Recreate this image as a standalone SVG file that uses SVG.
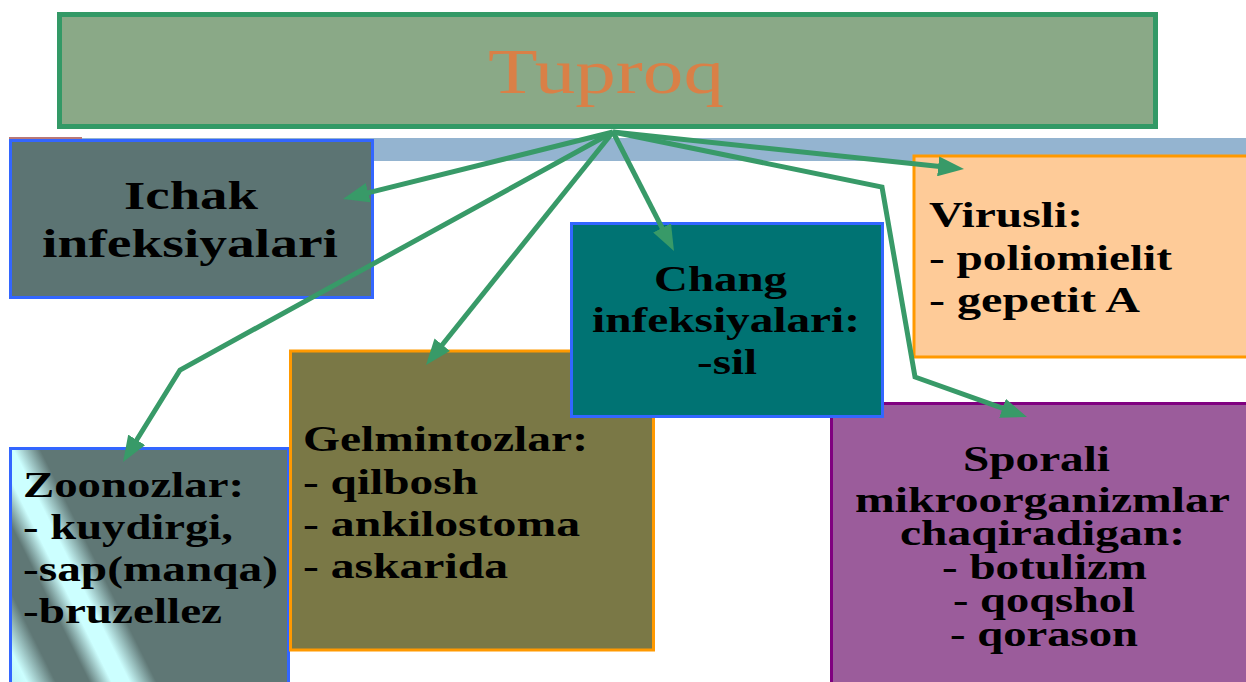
<svg xmlns="http://www.w3.org/2000/svg" width="1246" height="682" viewBox="0 0 1246 682">
<defs>
<style>
.t{font-family:"Liberation Serif","Times New Roman",serif;font-weight:bold;font-size:35px;fill:#000}
.big{font-size:41px}
.title{font-family:"Liberation Serif","Times New Roman",serif;font-size:63px;fill:#D98047}
.conn{fill:none;stroke:#389A68;stroke-width:5;stroke-linejoin:miter;marker-end:url(#ah)}
.blue{stroke:#3366FF;stroke-width:3}
.orange{stroke:#FF9900;stroke-width:3}
</style>
<marker id="ah" markerUnits="userSpaceOnUse" viewBox="0 0 26 20" refX="16" refY="10" markerWidth="26" markerHeight="20" orient="auto">
<path d="M0,0 L26,10 L0,20 Z" fill="#389A68"/>
</marker>
<linearGradient id="zg" gradientUnits="userSpaceOnUse" x1="0" y1="682" x2="178.9" y2="592.6">
<stop offset="0" stop-color="#B8EEEE"/>
<stop offset="0.12" stop-color="#CCFFFF"/>
<stop offset="0.25" stop-color="#5F7775"/>
<stop offset="0.4" stop-color="#5F7775"/>
<stop offset="0.5" stop-color="#CCFFFF"/>
<stop offset="0.58" stop-color="#CCFFFF"/>
<stop offset="0.7" stop-color="#5F7775"/>
<stop offset="1" stop-color="#5F7775"/>
</linearGradient>
</defs>
<rect width="1246" height="682" fill="#FFFFFF"/>
<rect x="82" y="138" width="1170" height="23" fill="#94B4D0"/>
<line x1="9" y1="138" x2="82" y2="138" stroke="#B87878" stroke-width="2"/>

<g id="tuproq">
<rect x="59.5" y="14.5" width="1096" height="112" fill="#8AA987" stroke="#339966" stroke-width="5"/>
<text class="title" x="488" y="93" textLength="236" lengthAdjust="spacingAndGlyphs">Tuproq</text>
</g>

<g id="ichak">
<rect x="10.5" y="140.5" width="362" height="157" fill="#5C7473" class="blue"/>
<text class="t big" x="124" y="209" textLength="134" lengthAdjust="spacingAndGlyphs">Ichak</text>
<text class="t big" x="42" y="257" textLength="296" lengthAdjust="spacingAndGlyphs">infeksiyalari</text>
</g>

<g id="virusli">
<rect x="914" y="156" width="340" height="201" fill="#FECB98" class="orange"/>
<text class="t" x="929" y="227" textLength="154" lengthAdjust="spacingAndGlyphs">Virusli:</text>
<text class="t" x="929" y="270" textLength="243" lengthAdjust="spacingAndGlyphs">- poliomielit</text>
<text class="t" x="929" y="312" textLength="211" lengthAdjust="spacingAndGlyphs">- gepetit A</text>
</g>

<g id="zoonozlar">
<rect x="10.5" y="448.5" width="278" height="250" fill="url(#zg)" class="blue"/>
<text class="t" x="23" y="497" textLength="221" lengthAdjust="spacingAndGlyphs">Zoonozlar:</text>
<text class="t" x="23" y="539" textLength="210" lengthAdjust="spacingAndGlyphs">- kuydirgi,</text>
<text class="t" x="23" y="581" textLength="255" lengthAdjust="spacingAndGlyphs">-sap(manqa)</text>
<text class="t" x="23" y="623" textLength="199" lengthAdjust="spacingAndGlyphs">-bruzellez</text>
</g>

<g id="gelmintozlar">
<rect x="290.5" y="351" width="363" height="299" fill="#7A7846" class="orange"/>
<text class="t" x="303" y="451" textLength="285" lengthAdjust="spacingAndGlyphs">Gelmintozlar:</text>
<text class="t" x="303" y="494" textLength="175" lengthAdjust="spacingAndGlyphs">- qilbosh</text>
<text class="t" x="303" y="536" textLength="277" lengthAdjust="spacingAndGlyphs">- ankilostoma</text>
<text class="t" x="303" y="578" textLength="205" lengthAdjust="spacingAndGlyphs">- askarida</text>
</g>

<g id="sporali">
<rect x="831.5" y="403.5" width="420" height="290" fill="#9B5C9B" stroke="#800080" stroke-width="3"/>
<text class="t" x="963" y="471" textLength="147" lengthAdjust="spacingAndGlyphs">Sporali</text>
<text class="t" x="855" y="512" textLength="375" lengthAdjust="spacingAndGlyphs">mikroorganizmlar</text>
<text class="t" x="900" y="545" textLength="285" lengthAdjust="spacingAndGlyphs">chaqiradigan:</text>
<text class="t" x="942" y="579" textLength="205" lengthAdjust="spacingAndGlyphs">- botulizm</text>
<text class="t" x="953" y="612" textLength="182" lengthAdjust="spacingAndGlyphs">- qoqshol</text>
<text class="t" x="950" y="646" textLength="188" lengthAdjust="spacingAndGlyphs">- qorason</text>
</g>

<g id="chang">
<rect x="571.5" y="223.5" width="311" height="193" fill="#007373" class="blue"/>
<text class="t" x="654" y="291" textLength="133" lengthAdjust="spacingAndGlyphs">Chang</text>
<text class="t" x="592" y="332" textLength="268" lengthAdjust="spacingAndGlyphs">infeksiyalari:</text>
<text class="t" x="697" y="374" textLength="60" lengthAdjust="spacingAndGlyphs">-sil</text>
</g>

<g id="connectors">
<path class="conn" d="M613,132 L352.7,196.6"/>
<path class="conn" d="M613,132 L180,370 L128.3,453.5"/>
<path class="conn" d="M613,132 L432.3,357.2"/>
<path class="conn" d="M613,132 L669.4,242.1"/>
<path class="conn" d="M613,132 L954.1,168"/>
<path class="conn" d="M613,132 L882,187 L915,377 L1017.6,413.6"/>
</g>
</svg>
